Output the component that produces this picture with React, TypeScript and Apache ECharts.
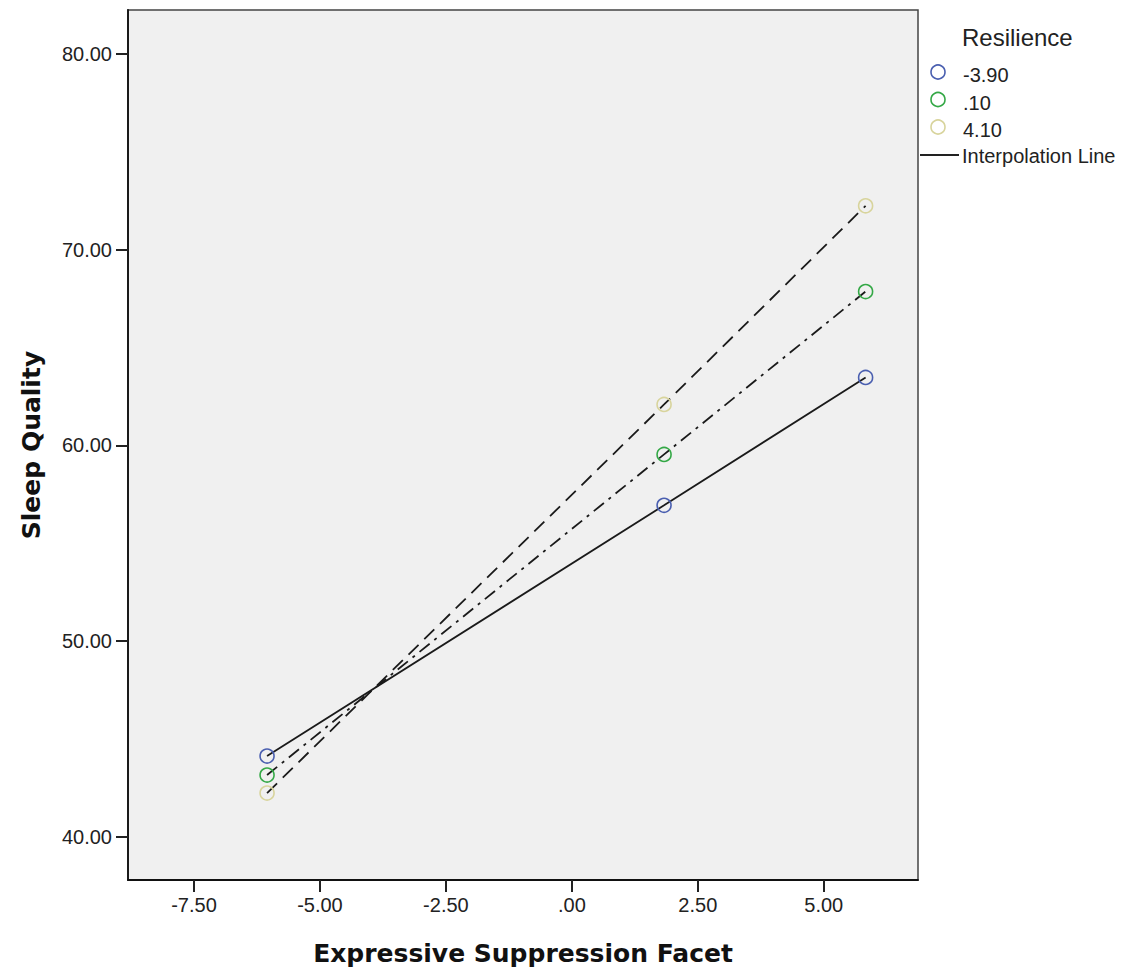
import React, { useEffect, useRef } from "react";
import * as echarts from "echarts";

const xValues = [-6.05, 1.83, 5.83];
const seriesNames = ["-3.90", ".10", "4.10"];
const seriesColors = ["#4a5fb0", "#34a846", "#d8d49c"];
const lineTypes: any[] = ["solid", [13, 6, 3, 6], [14, 8]];
const yLow = [44.13, 56.94, 63.47];
const yMid = [43.16, 59.54, 67.86];
const yHigh = [42.24, 62.09, 72.24];
const xTicks = [-7.5, -5, -2.5, 0, 2.5, 5];
const yTicks = [40, 50, 60, 70, 80];

const fmt = (v: number) => {
  let s = Math.abs(v).toFixed(2);
  if (s.startsWith("0")) s = s.slice(1);
  return (v < 0 ? "-" : "") + s;
};

const FONT = "'Liberation Sans', Arial, sans-serif";
const BOLD = "'DejaVu Sans', Verdana, sans-serif";

export default function App() {
  const ref = useRef<HTMLDivElement>(null);
  useEffect(() => {
    document.body.style.margin = "0";
    const chart = echarts.init(ref.current!, null, { renderer: "svg" });
    const ys = [yLow, yMid, yHigh];
    const series = ys.map((arr, i) => ({
      name: seriesNames[i],
      type: "line",
      data: arr.map((y, j) => [xValues[j], y]),
      symbol: "circle",
      symbolSize: 14,
      itemStyle: { color: "rgba(0,0,0,0)", borderColor: seriesColors[i], borderWidth: 1.6 },
      lineStyle: { color: "#1a1a1a", width: 1.8, type: lineTypes[i] },
      z: 3,
    }));
    const itemY = [72, 99.5, 127];
    const legendItems: any[] = [];
    legendItems.push({
      type: "text",
      x: 962,
      y: 37,
      style: { text: "Resilience", font: `24px ${FONT}`, fill: "#222", textVerticalAlign: "middle" },
    });
    seriesNames.forEach((n, i) => {
      legendItems.push({
        type: "circle",
        shape: { cx: 938, cy: itemY[i], r: 7 },
        style: { fill: "none", stroke: seriesColors[i], lineWidth: 1.6 },
      });
      legendItems.push({
        type: "text",
        x: 963,
        y: itemY[i] + 3,
        style: { text: n, font: `20px ${FONT}`, fill: "#222", textVerticalAlign: "middle" },
      });
    });
    legendItems.push({
      type: "line",
      shape: { x1: 920, y1: 155, x2: 959, y2: 155 },
      style: { stroke: "#222", lineWidth: 1.8 },
    });
    legendItems.push({
      type: "text",
      x: 962,
      y: 156,
      style: { text: "Interpolation Line", font: `20px ${FONT}`, fill: "#222", textVerticalAlign: "middle" },
    });
    chart.setOption({
      animation: false,
      backgroundColor: "#ffffff",
      grid: {
        left: 128,
        top: 10,
        width: 790,
        height: 870,
        outerBoundsMode: "none",
        containLabel: false,
        show: true,
        backgroundColor: "#f0f0f0",
        borderColor: "#444",
        borderWidth: 1.5,
      },
      xAxis: {
        type: "value",
        min: -8.81,
        max: 6.87,
        name: "Expressive Suppression Facet",
        nameLocation: "middle",
        nameGap: 61,
        nameTextStyle: { fontFamily: BOLD, fontWeight: "bold", fontSize: 25, color: "#111" },
        axisLine: { show: true, onZero: false, lineStyle: { color: "#111", width: 1.8 } },
        axisTick: { show: true, customValues: xTicks, length: 12, lineStyle: { color: "#222", width: 2 } },
        axisLabel: { customValues: xTicks, formatter: (v: number) => fmt(v), margin: 15, fontSize: 20, fontFamily: FONT, color: "#222" },
        splitLine: { show: false },
      },
      yAxis: {
        type: "value",
        min: 37.8,
        max: 82.24,
        name: "Sleep Quality",
        nameLocation: "middle",
        nameGap: 84,
        nameRotate: 90,
        nameTextStyle: { fontFamily: BOLD, fontWeight: "bold", fontSize: 25, color: "#111" },
        axisLine: { show: true, onZero: false, lineStyle: { color: "#111", width: 1.8 } },
        axisTick: { show: true, customValues: yTicks, length: 12, lineStyle: { color: "#222", width: 2 } },
        axisLabel: { customValues: yTicks, formatter: (v: number) => fmt(v), margin: 16, fontSize: 20, fontFamily: FONT, color: "#222" },
        splitLine: { show: false },
      },
      graphic: legendItems,
      series,
    });
    return () => chart.dispose();
  }, []);
  return <div ref={ref} style={{ width: 1131, height: 974 }} />;
}
